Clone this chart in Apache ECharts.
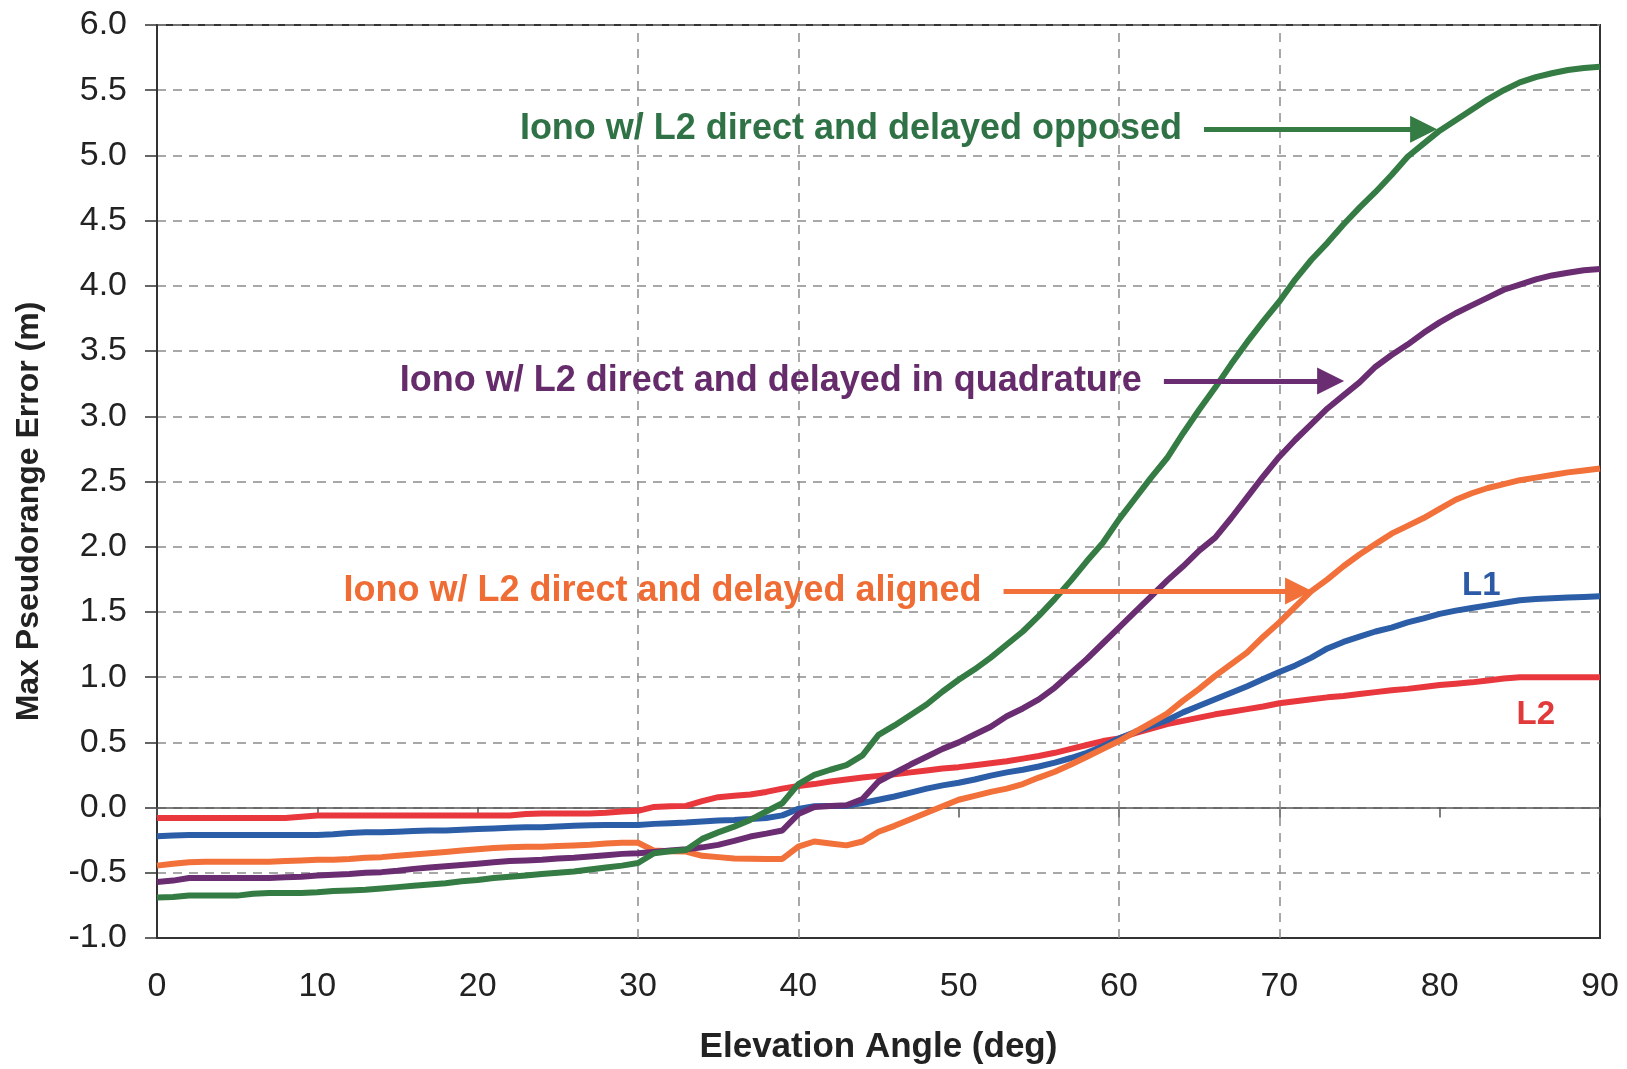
<!DOCTYPE html>
<html>
<head>
<meta charset="utf-8">
<title>Max Pseudorange Error vs Elevation Angle</title>
<script src="https://cdn.jsdelivr.net/npm/echarts@6.0.0/dist/echarts.min.js"></script>
<style>
  html, body { margin: 0; padding: 0; background: #fff; }
  #chart { width: 1627px; height: 1069px; }
</style>
</head>
<body>
<div id="chart"></div>
<script>
// elevation angle samples (deg)
const angles = [
  0, 1, 2, 3, 4, 5, 6, 7, 8, 9,
  10, 11, 12, 13, 14, 15, 16, 17, 18, 19,
  20, 21, 22, 23, 24, 25, 26, 27, 28, 29,
  30, 31, 32, 33, 34, 35, 36, 37, 38, 39,
  40, 41, 42, 43, 44, 45, 46, 47, 48, 49,
  50, 51, 52, 53, 54, 55, 56, 57, 58, 59,
  60, 61, 62, 63, 64, 65, 66, 67, 68, 69,
  70, 71, 72, 73, 74, 75, 76, 77, 78, 79,
  80, 81, 82, 83, 84, 85, 86, 87, 88, 89,
  90
]

// max pseudorange error (m)
const l2Error = [
  -0.08, -0.08, -0.08, -0.08, -0.08, -0.08, -0.08, -0.08, -0.08, -0.07,
  -0.06, -0.06, -0.06, -0.06, -0.06, -0.06, -0.06, -0.06, -0.06, -0.06,
  -0.06, -0.06, -0.06, -0.05, -0.045, -0.045, -0.045, -0.045, -0.04, -0.03,
  -0.025, 0.005, 0.01, 0.013, 0.05, 0.08, 0.09, 0.10, 0.12, 0.145,
  0.165, 0.18, 0.20, 0.215, 0.23, 0.243, 0.255, 0.27, 0.285, 0.30,
  0.31, 0.325, 0.34, 0.355, 0.375, 0.395, 0.42, 0.45, 0.48, 0.51,
  0.53, 0.57, 0.605, 0.64, 0.665, 0.69, 0.715, 0.735, 0.755, 0.775,
  0.80, 0.815, 0.83, 0.845, 0.855, 0.87, 0.885, 0.90, 0.91, 0.925,
  0.94, 0.95, 0.96, 0.975, 0.99, 1.0, 1.0, 1.0, 1.0, 1.0,
  1.0
]
const l1Error = [
  -0.22, -0.215, -0.21, -0.21, -0.21, -0.21, -0.21, -0.21, -0.21, -0.21,
  -0.21, -0.205, -0.195, -0.19, -0.19, -0.185, -0.18, -0.175, -0.175, -0.17,
  -0.165, -0.16, -0.155, -0.15, -0.15, -0.145, -0.14, -0.135, -0.133, -0.133,
  -0.133, -0.125, -0.12, -0.115, -0.107, -0.10, -0.095, -0.088, -0.08, -0.06,
  -0.01, 0.01, 0.013, 0.013, 0.035, 0.06, 0.085, 0.115, 0.145, 0.17,
  0.19, 0.215, 0.245, 0.27, 0.29, 0.315, 0.345, 0.38, 0.42, 0.47,
  0.53, 0.58, 0.625, 0.67, 0.73, 0.78, 0.83, 0.88, 0.93, 0.985,
  1.04, 1.09, 1.15, 1.22, 1.27, 1.31, 1.35, 1.38, 1.42, 1.45,
  1.485, 1.51, 1.53, 1.55, 1.57, 1.59, 1.60, 1.605, 1.61, 1.615,
  1.62
]
const alignedError = [
  -0.445, -0.43, -0.42, -0.415, -0.415, -0.415, -0.415, -0.415, -0.41, -0.405,
  -0.40, -0.40, -0.395, -0.385, -0.38, -0.37, -0.36, -0.35, -0.34, -0.33,
  -0.32, -0.31, -0.305, -0.30, -0.30, -0.295, -0.29, -0.285, -0.275, -0.27,
  -0.27, -0.33, -0.335, -0.337, -0.37, -0.38, -0.39, -0.392, -0.394, -0.394,
  -0.30, -0.26, -0.275, -0.29, -0.26, -0.185, -0.14, -0.09, -0.04, 0.01,
  0.06, 0.09, 0.12, 0.145, 0.18, 0.23, 0.275, 0.33, 0.39, 0.45,
  0.51, 0.58, 0.65, 0.72, 0.82, 0.91, 1.01, 1.10, 1.19, 1.31,
  1.42, 1.54, 1.66, 1.75, 1.85, 1.94, 2.02, 2.10, 2.16, 2.22,
  2.29, 2.36, 2.41, 2.45, 2.48, 2.51, 2.53, 2.55, 2.57, 2.585,
  2.60
]
const quadratureError = [
  -0.57, -0.56, -0.54, -0.54, -0.54, -0.54, -0.54, -0.54, -0.535, -0.53,
  -0.52, -0.515, -0.51, -0.50, -0.495, -0.485, -0.47, -0.46, -0.45, -0.44,
  -0.43, -0.42, -0.41, -0.405, -0.40, -0.39, -0.385, -0.375, -0.365, -0.355,
  -0.35, -0.34, -0.33, -0.32, -0.305, -0.286, -0.255, -0.222, -0.20, -0.176,
  -0.05, 0.005, 0.012, 0.018, 0.065, 0.20, 0.265, 0.33, 0.39, 0.45,
  0.50, 0.56, 0.62, 0.70, 0.76, 0.83, 0.92, 1.03, 1.14, 1.26,
  1.38, 1.50, 1.62, 1.74, 1.85, 1.97, 2.07, 2.22, 2.38, 2.54,
  2.69, 2.82, 2.94, 3.06, 3.16, 3.26, 3.38, 3.47, 3.55, 3.64,
  3.72, 3.79, 3.85, 3.91, 3.97, 4.01, 4.05, 4.08, 4.10, 4.12,
  4.13
]
const opposedError = [
  -0.69, -0.685, -0.675, -0.675, -0.675, -0.675, -0.66, -0.655, -0.655, -0.655,
  -0.65, -0.64, -0.635, -0.63, -0.62, -0.61, -0.60, -0.59, -0.58, -0.565,
  -0.555, -0.54, -0.53, -0.52, -0.51, -0.50, -0.49, -0.475, -0.46, -0.445,
  -0.425, -0.35, -0.335, -0.325, -0.24, -0.19, -0.146, -0.095, -0.03, 0.033,
  0.18, 0.25, 0.29, 0.325, 0.40, 0.557, 0.63, 0.71, 0.79, 0.89,
  0.98, 1.06, 1.15, 1.25, 1.35, 1.47, 1.60, 1.74, 1.89, 2.03,
  2.21, 2.37, 2.53, 2.68, 2.87, 3.05, 3.22, 3.40, 3.57, 3.73,
  3.88, 4.05, 4.20, 4.33, 4.47, 4.60, 4.72, 4.85, 4.99, 5.09,
  5.19, 5.27, 5.35, 5.43, 5.50, 5.56, 5.60, 5.63, 5.655, 5.67,
  5.68
]

// angles that carry a vertical dashed gridline in the original
const xGridAngles = [30, 40, 60, 70]

const font = '"Liberation Sans", Arial, Helvetica, sans-serif'
const dash = [9, 7]
const pts = vals => angles.map((a, i) => [a, vals[i]])

function arrow(text, from, to, y, color, textColor) {
  return {
    silent: true,
    symbol: ['none', 'triangle'],
    symbolSize: 27,
    lineStyle: { color, width: 5, type: 'solid' },
    label: {
      show: true, position: 'start', distance: 22, formatter: text,
      color: textColor, fontSize: 36, fontWeight: 'bold', fontFamily: font
    },
    data: [[{ coord: [from, y] }, { coord: [to, y] }]]
  }
}

function tag(text, x, y, color) {
  return {
    silent: true, symbol: 'rect', symbolSize: 1,
    itemStyle: { color: 'rgba(0,0,0,0)' },
    label: { show: true, position: 'inside', formatter: text, color, fontSize: 33, fontWeight: 'bold', fontFamily: font },
    data: [{ coord: [x, y] }]
  }
}

const chart = echarts.init(document.getElementById('chart'))
chart.setOption({
  animation: false,
  backgroundColor: '#fff',
  grid: {
    left: 157, right: 27, top: 25, bottom: 131,
    show: true, borderColor: '#333', borderWidth: 2,
    containLabel: false, outerBoundsMode: 'none'
  },
  xAxis: [{
    type: 'value', min: 0, max: 90, interval: 10, position: 'bottom',
    name: 'Elevation Angle (deg)', nameLocation: 'middle', nameGap: 92,
    nameTextStyle: { fontSize: 35, fontWeight: 'bold', color: '#222', fontFamily: font },
    axisLine: { show: true, onZero: false, lineStyle: { color: '#333', width: 2 } },
    axisTick: { show: false },
    axisLabel: { margin: 32, fontSize: 34, color: '#222', fontFamily: font },
    splitLine: { show: false }
  }, {
    // the zero line with its ticks
    type: 'value', min: 0, max: 90, interval: 10, position: 'bottom',
    axisLine: { show: true, onZero: true, lineStyle: { color: '#555', width: 1.5 } },
    axisTick: { show: true, length: 10, lineStyle: { color: '#555', width: 1.5 } },
    axisLabel: { show: false },
    splitLine: { show: false }
  }],
  yAxis: {
    type: 'value', min: -1, max: 6, interval: 0.5,
    name: 'Max Pseudorange Error (m)', nameLocation: 'middle', nameGap: 112, nameRotate: 90,
    nameTextStyle: { fontSize: 32, fontWeight: 'bold', color: '#222', fontFamily: font, padding: [0, 60, 0, 0] },
    axisLine: { show: true, onZero: false, lineStyle: { color: '#333', width: 2 } },
    axisTick: { show: true, length: 12, lineStyle: { color: '#333', width: 1.5 } },
    axisLabel: { margin: 30, fontSize: 34, color: '#222', fontFamily: font, formatter: v => v.toFixed(1) },
    splitLine: { show: true, lineStyle: { color: '#8c8c8c', width: 1.5, type: dash } }
  },
  series: [{
    name: 'L2', type: 'line', data: pts(l2Error), symbol: 'none',
    lineStyle: { width: 6, color: '#e8383d' }, itemStyle: { color: '#e8383d' },
    markLine: {
      silent: true, symbol: 'none', z: 1, label: { show: false },
      lineStyle: { color: '#8c8c8c', width: 1.5, type: dash },
      data: xGridAngles.map(a => ({ xAxis: a }))
    },
    markPoint: tag('L2', 86.0, 0.71, '#e23a3a')
  }, {
    name: 'L1', type: 'line', data: pts(l1Error), symbol: 'none',
    lineStyle: { width: 6, color: '#2c5ea8' }, itemStyle: { color: '#2c5ea8' },
    markPoint: tag('L1', 82.6, 1.70, '#2d5aa6')
  }, {
    name: 'Iono w/ L2 direct and delayed aligned', type: 'line', data: pts(alignedError), symbol: 'none',
    lineStyle: { width: 6, color: '#f2703a' }, itemStyle: { color: '#f2703a' },
    markLine: arrow('Iono w/ L2 direct and delayed aligned', 52.8, 71.2, 1.66, '#f2703a', '#ef6c35')
  }, {
    name: 'Iono w/ L2 direct and delayed in quadrature', type: 'line', data: pts(quadratureError), symbol: 'none',
    lineStyle: { width: 6, color: '#6b2d72' }, itemStyle: { color: '#6b2d72' },
    markLine: arrow('Iono w/ L2 direct and delayed in quadrature', 62.8, 73.2, 3.27, '#6b2d72', '#652b6b')
  }, {
    name: 'Iono w/ L2 direct and delayed opposed', type: 'line', data: pts(opposedError), symbol: 'none',
    lineStyle: { width: 6, color: '#347c43' }, itemStyle: { color: '#347c43' },
    markLine: arrow('Iono w/ L2 direct and delayed opposed', 65.3, 79.0, 5.2, '#347c43', '#2f7245')
  }]
})
</script>
</body>
</html>
